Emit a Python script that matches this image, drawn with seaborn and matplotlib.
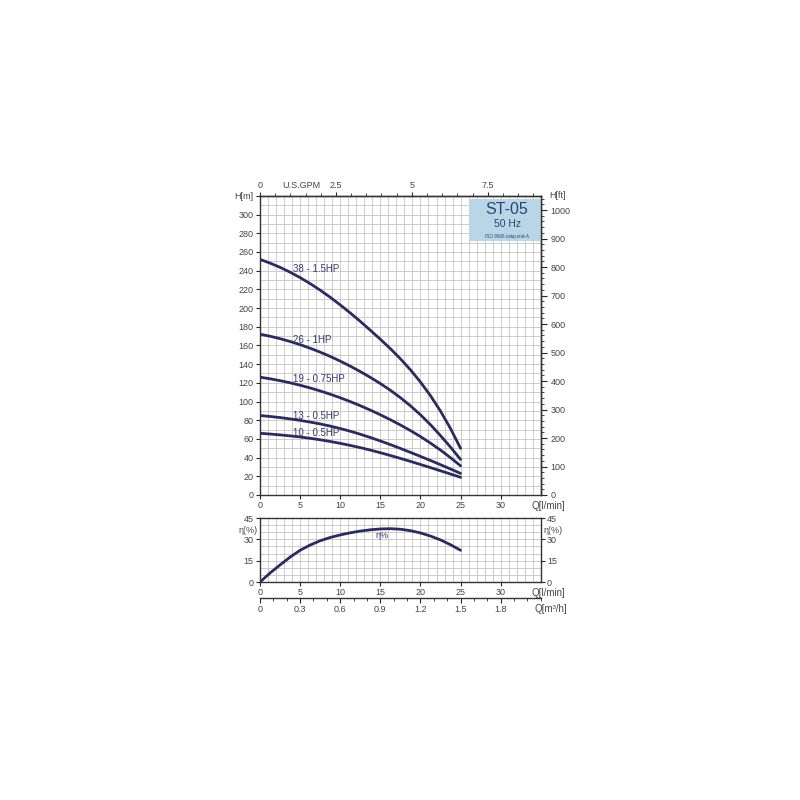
import numpy as np
import pandas as pd
import matplotlib.pyplot as plt
import seaborn as sns
from matplotlib.patches import Rectangle
from matplotlib.ticker import MultipleLocator

# pump curves (Q in l/min, H in m)
q = [0, 1.25, 2.5, 3.75, 5, 6.25, 7.5, 8.75, 10, 11.25, 12.5,
     13.75, 15, 16.25, 17.5, 18.75, 20, 21.25, 22.5, 23.75, 25]
h_38 = [252, 248, 243.5, 238.3, 232.5, 226.1, 219.1, 211.5, 203.3, 194.7, 185.7,
        176.2, 166.6, 156.5, 145.7, 133.9, 120.8, 106.2, 89.7, 71, 49.9]
h_26 = [172, 169.8, 167.2, 164.2, 160.8, 157, 152.8, 148.2, 143.2, 137.8, 132,
        125.8, 119.2, 112, 104.1, 95.4, 85.8, 75.2, 63.5, 51.2, 38]
h_19 = [126, 124.3, 122.3, 120, 117.4, 114.5, 111.3, 107.8, 104, 99.9, 95.5,
        90.8, 85.8, 80.5, 74.9, 68.9, 62.5, 55.5, 48, 39.9, 31.2]
h_13 = [85, 84, 82.8, 81.4, 79.8, 78, 76, 73.7, 71.1, 68.2, 65,
        61.5, 57.8, 53.9, 49.8, 45.6, 41.3, 36.9, 32.4, 27.8, 23.1]
h_10 = [66, 65.2, 64.3, 63.25, 62.05, 60.65, 59.05, 57.25, 55.25, 53.05, 50.65,
        48.05, 45.25, 42.25, 39.15, 35.95, 32.65, 29.3, 25.9, 22.45, 18.95]
pump_names = ["38 - 1.5HP", "26 - 1HP", "19 - 0.75HP", "13 - 0.5HP", "10 - 0.5HP"]
label_h = [242, 166, 124, 85, 66.5]

eff = [0, 6.3, 12, 17.5, 22.3, 26, 29, 31.3, 33.1, 34.6, 35.8,
       36.7, 37.3, 37.5, 37.1, 36.1, 34.5, 32.3, 29.6, 26.2, 22.3]

navy = "#2b2b5c"
txt = "#444444"
box_txt = "#2e4272"

sns.set_style("white")
plt.rcParams["font.family"] = ["Liberation Sans", "DejaVu Sans"]
plt.rcParams["axes.edgecolor"] = "#333333"
plt.rcParams["axes.linewidth"] = 1.0

rows = []
for name, hs in zip(pump_names, [h_38, h_26, h_19, h_13, h_10]):
    for qq, hh in zip(q, hs):
        rows.append({"Q": qq, "H": hh, "pump": name})
df = pd.DataFrame(rows)
df_eff = pd.DataFrame({"Q": q, "eta": eff})

fig = plt.figure(figsize=(8, 8), dpi=100)
ax = fig.add_axes([0.325, 0.38125, 0.351, 0.374])
ax2 = fig.add_axes([0.325, 0.2725, 0.351, 0.08])

grid_kw = dict(color="#c4c4c4", lw=0.6)
fs = 6.5

# --- head curves ---
sns.lineplot(data=df, x="Q", y="H", units="pump", estimator=None, color=navy,
             lw=2, ax=ax, legend=False, zorder=3)
ax.set_xlim(0, 35)
ax.set_ylim(0, 320)
ax.set_xticks(range(0, 31, 5))
ax.set_yticks(range(0, 321, 20))
ax.set_yticklabels([str(v) for v in range(0, 301, 20)] + ["H[m]"])
ax.xaxis.set_minor_locator(MultipleLocator(1))
ax.yaxis.set_minor_locator(MultipleLocator(10))
ax.grid(which="both", **grid_kw)
ax.set_axisbelow(True)
ax.tick_params(which="major", length=3, labelsize=fs, labelcolor=txt, pad=1.5,
               left=True, bottom=True)
ax.tick_params(which="minor", length=0)
ax.set_xlabel("")
ax.set_ylabel("")
ax.annotate("Q[l/min]", xy=(36.0, 0), xycoords=("data", "axes fraction"),
            xytext=(0, -4.5), textcoords="offset points", ha="center", va="top",
            fontsize=7, color=txt)

for name, y in zip(pump_names, label_h):
    ax.text(4.1, y, name, fontsize=7, color="#3a3a6a", va="center", zorder=4)

# info box
ax.add_patch(Rectangle((26.1, 272), 35 - 26.1, 45, facecolor="#b9d5e6",
                       edgecolor="none", zorder=2))
ax.text(30.8, 305, "ST-05", fontsize=11.5, color=box_txt, ha="center", va="center", zorder=4)
ax.text(30.8, 290, "50 Hz", fontsize=7.5, color=box_txt, ha="center", va="center", zorder=4)
ax.text(30.8, 277, "ISO 9906 załącznik A", fontsize=3.3, color=box_txt,
        ha="center", va="center", zorder=4)

# top: US GPM
top = ax.secondary_xaxis("top", functions=(lambda x: x / 3.785, lambda g: g * 3.785))
top.set_xticks([0, 2.5, 5, 7.5])
top.set_xticklabels(["0", "2.5", "5", "7.5"])
top.xaxis.set_minor_locator(MultipleLocator(0.5))
top.tick_params(which="major", length=3, labelsize=fs, labelcolor=txt, pad=1.5)
top.tick_params(which="minor", length=2.5)
ax.annotate("U.S.GPM", xy=(5.2, 1), xycoords=("data", "axes fraction"),
            xytext=(0, 4.5), textcoords="offset points", ha="center", va="bottom",
            fontsize=fs, color=txt)

# right: H[ft]
right = ax.secondary_yaxis("right", functions=(lambda h: h * 3.281, lambda f: f / 3.281))
right.set_yticks(range(0, 1001, 100))
right.yaxis.set_minor_locator(MultipleLocator(20))
right.tick_params(which="major", length=4, labelsize=fs, labelcolor=txt, pad=3)
right.tick_params(which="minor", length=2.5)
ax.annotate("H[ft]", xy=(1, 1), xycoords="axes fraction", xytext=(6, 0),
            textcoords="offset points", ha="left", va="center", fontsize=fs, color=txt)

# --- efficiency panel ---
sns.lineplot(data=df_eff, x="Q", y="eta", color=navy, lw=2, ax=ax2, zorder=3)
ax2.set_xlim(0, 35)
ax2.set_ylim(0, 45)
ax2.set_xticks(range(0, 31, 5))
ax2.set_yticks([0, 15, 30, 45])
ax2.xaxis.set_minor_locator(MultipleLocator(1))
ax2.yaxis.set_minor_locator(MultipleLocator(5))
ax2.grid(which="both", **grid_kw)
ax2.set_axisbelow(True)
ax2.tick_params(which="major", length=3, labelsize=fs, labelcolor=txt, pad=1.5,
                left=True, bottom=True, right=True, labelright=True)
ax2.tick_params(which="minor", length=0)
ax2.set_xlabel("")
ax2.set_ylabel("")
ax2.text(15.2, 33, "η%", fontsize=fs, color="#3a3a6a", ha="center", va="center")
ax2.annotate("Q[l/min]", xy=(36.0, 0), xycoords=("data", "axes fraction"),
             xytext=(0, -4.5), textcoords="offset points", ha="center", va="top",
             fontsize=7, color=txt)
for xa, ha, dx in [(0, "right", -2), (1, "left", 2)]:
    ax2.annotate("η(%)", xy=(xa, 36.5), xycoords=("axes fraction", "data"),
                 xytext=(dx, 0), textcoords="offset points", ha=ha, va="center",
                 fontsize=fs, color=txt)

# bottom: m3/h
m3 = ax2.secondary_xaxis(-0.25, functions=(lambda x: x * 0.06, lambda m: m / 0.06))
m3.set_xticks([0, 0.3, 0.6, 0.9, 1.2, 1.5, 1.8])
m3.set_xticklabels(["0", "0.3", "0.6", "0.9", "1.2", "1.5", "1.8"])
m3.xaxis.set_minor_locator(MultipleLocator(0.1))
m3.tick_params(which="major", length=3.5, labelsize=fs, labelcolor=txt, pad=1.5)
m3.tick_params(which="minor", length=2.5)
ax2.annotate("Q[m³/h]", xy=(36.2, -0.25), xycoords=("data", "axes fraction"),
             xytext=(0, -4.5), textcoords="offset points", ha="center", va="top",
             fontsize=7, color=txt)

fig.savefig("out.png", dpi=100)
